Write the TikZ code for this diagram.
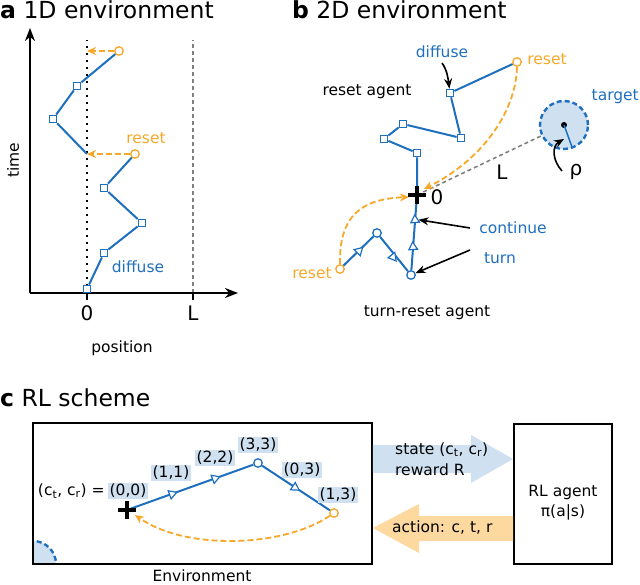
\documentclass[tikz,border=0pt]{standalone}
\usepackage{fontspec}
\setmainfont{DejaVu Sans}
\usetikzlibrary{arrows.meta,shapes.geometric}
\definecolor{cblue}{RGB}{31,111,191}
\definecolor{corange}{RGB}{247,168,40}
\definecolor{clight}{RGB}{207,225,241}
\definecolor{clightor}{RGB}{253,217,160}
\definecolor{cgray}{RGB}{128,128,128}
\begin{document}
\begin{tikzpicture}[x=1pt,y=-1pt,
  every node/.style={font=\fontsize{15.5}{19}\selectfont},
  walk/.style={draw=cblue, line width=2},
  sqn/.style={rectangle, draw=cblue, fill=white, line width=1.3, minimum size=7.5, inner sep=0},
  circb/.style={circle, draw=cblue, fill=white, line width=1.3, minimum size=8.5, inner sep=0},
  circo/.style={circle, draw=corange, fill=white, line width=1.3, minimum size=8.5, inner sep=0},
  trin/.style={regular polygon, regular polygon sides=3, draw=cblue, fill=white, line width=1.2, minimum size=10, inner sep=0, rotate=#1-90},
  resetarr/.style={draw=corange, line width=1.8, dash pattern=on 6pt off 3pt, -{Stealth[length=9,width=8]}},
  blackarr/.style={draw=black, line width=1.6, -{Stealth[length=10,width=8]}},
  axis/.style={line width=2, -{Stealth[length=13,width=10]}},
  title/.style={font=\fontsize{23.5}{28}\selectfont, anchor=base west, inner sep=0},
  bl/.style={text=cblue}, ol/.style={text=corange},
  big/.style={font=\fontsize{20}{24}\selectfont},
  hl/.style={fill=clight, inner sep=1.2pt},
  plusm/.style={line width=3.5},
  bigbox/.style={draw, line width=1.8, inner sep=0}
]
\useasboundingbox (0,0) rectangle (640,585);

% ---------------- titles
\node[title] (ta) at (0,19) {\textbf{a} 1D environment};
\node[title] (tb) at (292,19) {\textbf{b} 2D environment};
\node[title] (tc) at (0,406) {\textbf{c} RL scheme};

% ---------------- panel a
\coordinate (ao) at (30,293);
\coordinate (aytip) at (30,28);
\coordinate (axtip) at (238,293);
\draw[line width=2, dash pattern=on 2pt off 5pt] (87,293) -- (87,40);
\draw[cgray, line width=1.6, dash pattern=on 4pt off 3pt] (193,293) -- (193,40);
\draw[axis] (ao) -- (aytip);
\draw[axis] (ao) -- (axtip);
\draw[line width=2] (87,293) -- (87,300);
\draw[line width=2] (193,293) -- (193,300);
\node[big] (l0) at (87,313) {0};
\node[big] (lL) at (193,313) {L};
\node (lpos) at (122,348) {position};
\node[rotate=90] (ltime) at (13,160) {time};

\node[sqn] (a0) at (87,289) {};
\node[sqn] (a1) at (104,253) {};
\node[sqn] (a2) at (142,223) {};
\node[sqn] (a3) at (104,188) {};
\node[circo] (a4) at (135,154) {};
\coordinate (r1) at (87,154);
\node[sqn] (a5) at (53,119) {};
\node[sqn] (a6) at (77,86) {};
\node[circo] (a7) at (119,51) {};
\coordinate (r2) at (87,51);
\draw[walk] (a0) -- (a1) -- (a2) -- (a3) -- (a4);
\draw[walk] (r1) -- (a5) -- (a6) -- (a7);
\draw[resetarr] (a4) -- (r1);
\draw[resetarr] (a7) -- (r2);
\node[ol] (lreseta) at (146,138) {reset};
\node[bl] (ldiffa) at (138,267) {diffuse};

% ---------------- panel b
\coordinate (b0) at (417,195);
\node[circle, minimum size=48, fill=clight, draw=cblue, line width=2.4, dash pattern=on 5pt off 3pt] (tg) at (564,125) {};
\fill (tg.center) circle (3);
\draw[cblue, line width=1.5] (tg.center) -- (572,147);
\draw[cgray, line width=1.6, dash pattern=on 4pt off 3pt] (b0) -- (tg);

\node[sqn] (b1) at (417,153) {};
\node[sqn] (b2) at (384,139) {};
\node[sqn] (b3) at (403,124) {};
\node[sqn] (b4) at (461,138) {};
\node[sqn] (b5) at (450,93) {};
\node[circo] (b6) at (517,62) {};
\draw[walk] (b0) -- (b1) -- (b2) -- (b3) -- (b4) -- (b5) -- (b6);
\coordinate (b0r) at (424,189);
\draw[resetarr] (b6.south) .. controls (516,112) and (482,160) .. (b0r);

\node[circb] (t3) at (411,275) {};
\node[circb] (t5) at (377,233) {};
\node[circo] (t7) at (340,269) {};
\draw[walk] (b0) -- (t3);
\draw[walk] (t3) -- (t5) -- (t7);
\node[trin=94] (t1) at (415,220) {};
\node[trin=94] (t2) at (413,247) {};
\node[trin=-51] (t4) at (393,257) {};
\node[trin=44] (t6) at (359,251) {};
\coordinate (b0l) at (409,197);
\draw[resetarr] (t7.north) .. controls (339,215) and (362,199) .. (b0l);

\draw[plusm] ([xshift=-9pt]b0) -- ([xshift=9pt]b0);
\draw[plusm] ([yshift=-9pt]b0) -- ([yshift=9pt]b0);
\node[big] (lb0) at (437,197) {0};
\node[big] (lbL) at (502,172) {L};
\node[big] (lrho) at (576,172) {ρ};
\coordinate (rhoA) at (562,171);
\coordinate (rhoB) at (564,139);
\draw[blackarr] (rhoA) .. controls (552,160) and (552,146) .. (rhoB);

\node[bl] (ldiffb) at (442,52) {diffuse};
\coordinate (dA) at (442,63);
\draw[blackarr] (dA) .. controls (447,70) and (448,78) .. (b5);
\node[ol] (lresetb1) at (547,59) {reset};
\node (lresetag) at (367,92) {reset agent};
\node[bl, anchor=east, inner sep=1pt] (ltarget) at (640,97) {target};
\node[bl] (lcont) at (513,228) {continue};
\node[bl] (lturn) at (500,258) {turn};
\coordinate (cA) at (470,228);
\coordinate (uA) at (470,250);
\draw[blackarr] (cA) -- (t1.east);
\draw[blackarr] (uA) -- (t3);
\node[ol] (lresetb2) at (312,273) {reset};
\node (ltrag) at (427,313) {turn-reset agent};

% ---------------- panel c
\begin{scope}
\clip (33,423) rectangle (372,564);
\draw[fill=clight, draw=cblue, line width=2.4, dash pattern=on 5pt off 3pt] (33,564) circle (23);
\end{scope}
\node[bigbox, minimum width=339, minimum height=141] (env) at (202.5,493.5) {};
\node[anchor=base, inner sep=0] (lenv) at (202,581) {Environment};

\coordinate (c0) at (127,510);
\node[circb] (c3) at (258,463) {};
\node[circo] (c5) at (334,513) {};
\draw[walk] (c0) -- (c3) -- (c5);
\node[trin=20] (c1) at (172,494) {};
\node[trin=20] (c2) at (215,478.5) {};
\node[trin=-33] (c4) at (295,487.5) {};
\coordinate (c0r) at (135,515);
\draw[resetarr] (c5) .. controls (282,548) and (185,550) .. (c0r);
\draw[plusm] ([xshift=-9pt]c0) -- ([xshift=9pt]c0);
\draw[plusm] ([yshift=-9pt]c0) -- ([yshift=9pt]c0);

\node[anchor=east, inner sep=1.2pt] (lct) at (106,491) {(c\textsubscript{t}, c\textsubscript{r}) =};
\node[hl] (l00) at (128,491) {(0,0)};
\node[hl] (l11) at (171,473) {(1,1)};
\node[hl] (l22) at (215,458) {(2,2)};
\node[hl] (l33) at (258,445) {(3,3)};
\node[hl] (l03) at (302,470) {(0,3)};
\node[hl] (l13) at (338,495) {(1,3)};

\node[bigbox, minimum width=98, minimum height=140] (rl) at (563,494) {};
\node[align=center, font=\fontsize{15.5}{20}\selectfont] (rltext) at (563,503) {RL agent\\π(a|s)};

\fill[clight] (env.east |- 0,445) -- (471,445) -- (471,435) -- (rl.west |- 0,459) -- (471,483) -- (471,473) -- (env.east |- 0,473) -- cycle;
\fill[clightor] (rl.west |- 0,516) -- (419,516) -- (419,504) -- (env.east |- 0,528) -- (419,553) -- (419,541) -- (rl.west |- 0,541) -- cycle;
\node[anchor=west, align=left, inner sep=0, font=\fontsize{15.5}{21}\selectfont] (lstate) at (395,459) {state (c\textsubscript{t}, c\textsubscript{r})\\reward R};
\node[anchor=west, inner sep=0] (laction) at (392,528) {action: c, t, r};
\end{tikzpicture}
\end{document}
